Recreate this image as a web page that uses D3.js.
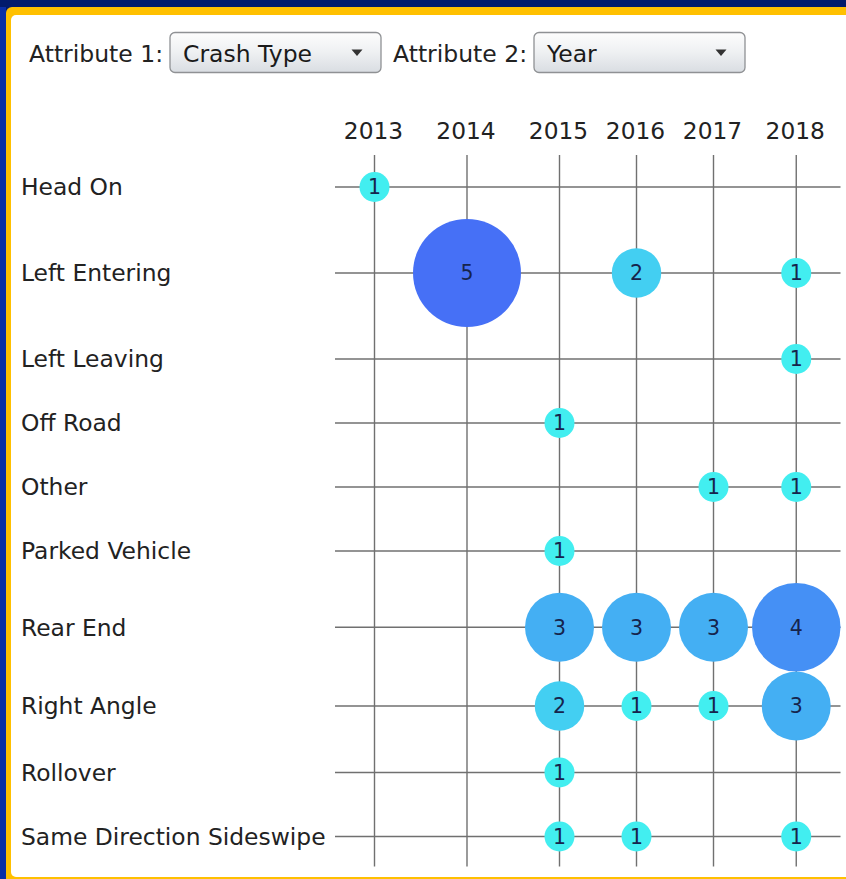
<!DOCTYPE html>
<html>
<head>
<meta charset="utf-8">
<script src="https://cdn.jsdelivr.net/npm/d3@7"></script>
<style>
  html, body { margin: 0; padding: 0; background: #ffffff; }
  svg { display: block; }
  text { font-family: "DejaVu Sans", Verdana, sans-serif; }
</style>
</head>
<body>
<svg id="chart" width="846" height="879"></svg>
<script>
// Crash counts by crash type (rows) and year (columns); 0 = no crashes
const categories = [
  "Head On", "Left Entering", "Left Leaving", "Off Road", "Other",
  "Parked Vehicle", "Rear End", "Right Angle", "Rollover", "Same Direction Sideswipe"
];
const years = ["2013", "2014", "2015", "2016", "2017", "2018"];

const headOn        = [1, 0, 0, 0, 0, 0];
const leftEntering  = [0, 5, 0, 2, 0, 1];
const leftLeaving   = [0, 0, 0, 0, 0, 1];
const offRoad       = [0, 0, 1, 0, 0, 0];
const other         = [0, 0, 0, 0, 1, 1];
const parkedVehicle = [0, 0, 1, 0, 0, 0];
const rearEnd       = [0, 0, 3, 3, 3, 4];
const rightAngle    = [0, 0, 2, 1, 1, 3];
const rollover      = [0, 0, 1, 0, 0, 0];
const sameDirection = [0, 0, 1, 1, 0, 1];

const counts = [headOn, leftEntering, leftLeaving, offRoad, other,
                parkedVehicle, rearEnd, rightAngle, rollover, sameDirection];

const attribute1 = "Crash Type";
const attribute2 = "Year";

const svg = d3.select("#chart");
const W = 846, H = 879;

// ---- frame ----
svg.append("rect").attr("x", 0).attr("y", 0).attr("width", W).attr("height", H).attr("fill", "#021b6c");
svg.append("rect").attr("x", 0).attr("y", 7).attr("width", 6).attr("height", H - 7).attr("fill", "#0a2fa6");
svg.append("rect").attr("x", 6).attr("y", 7).attr("width", W + 10).attr("height", H).attr("rx", 6).attr("fill", "#ffc000");
svg.append("rect").attr("x", 11).attr("y", 15).attr("width", W + 10).attr("height", H - 17).attr("rx", 5).attr("fill", "#ffffff");

// ---- attribute pickers ----
const defs = svg.append("defs");
const grad = defs.append("linearGradient").attr("id", "comboFill")
  .attr("x1", 0).attr("y1", 0).attr("x2", 0).attr("y2", 1);
grad.append("stop").attr("offset", "0%").attr("stop-color", "#fdfdfd");
grad.append("stop").attr("offset", "50%").attr("stop-color", "#eef0f2");
grad.append("stop").attr("offset", "100%").attr("stop-color", "#d9dde2");

function combo(labelX, label, boxX, boxW, value) {
  svg.append("text").attr("x", labelX).attr("y", 62)
    .attr("font-size", 23.5).attr("fill", "#222222").text(label);
  svg.append("rect").attr("x", boxX).attr("y", 32.5).attr("width", boxW).attr("height", 40)
    .attr("rx", 5).attr("fill", "url(#comboFill)").attr("stroke", "#8f9194").attr("stroke-width", 1.3);
  svg.append("text").attr("x", boxX + 13).attr("y", 62)
    .attr("font-size", 23.5).attr("fill", "#1a1a1a").text(value);
  const ax = boxX + boxW - 24, ay = 53;
  svg.append("path")
    .attr("d", `M${ax - 5.5},${ay - 3.5}L${ax + 5.5},${ay - 3.5}L${ax},${ay + 3}Z`)
    .attr("fill", "#333333");
}
combo(29, "Attribute 1:", 170, 211, attribute1);
combo(393, "Attribute 2:", 534, 211, attribute2);

// ---- scales ----
const r = d3.scaleLinear().domain([1, 5]).range([15, 54]);
const color = d3.scaleLinear().domain([1, 5]).range(["#42eef0", "#4670f6"]);

// Each column / row is as wide / tall as its largest bubble, with a minimum
const minColW = 77, minRowH = 64;
const gridLeft = 336, gridTop = 155;
const colW = years.map((y, j) => Math.max(minColW, 2 * r(d3.max(counts, row => row[j]) || 1)));
const rowH = categories.map((c, i) => Math.max(minRowH, 2 * r(d3.max(counts[i]) || 1)));
const colEdges = [0, ...d3.cumsum(colW)];
const rowEdges = [0, ...d3.cumsum(rowH)];

const x = d3.scaleOrdinal().domain(years)
  .range(years.map((y, j) => gridLeft + colEdges[j] + colW[j] / 2));
const y = d3.scaleOrdinal().domain(categories)
  .range(categories.map((c, i) => gridTop + rowEdges[i] + rowH[i] / 2));

const gridRight = gridLeft + colEdges[colEdges.length - 1];
const gridBottom = gridTop + rowEdges[rowEdges.length - 1];

// ---- grid lines ----
const grid = svg.append("g").attr("stroke", "#707070").attr("stroke-width", 1.4);
grid.selectAll("line.h").data(categories).join("line").attr("class", "h")
  .attr("x1", gridLeft - 1).attr("x2", gridRight)
  .attr("y1", d => y(d)).attr("y2", d => y(d));
grid.selectAll("line.v").data(years).join("line").attr("class", "v")
  .attr("x1", d => x(d)).attr("x2", d => x(d))
  .attr("y1", gridTop).attr("y2", gridBottom - 2);

// ---- column headers ----
svg.append("g").selectAll("text").data(years).join("text")
  .attr("x", d => x(d) - 1).attr("y", 138.5)
  .attr("text-anchor", "middle").attr("font-size", 23.3).attr("fill", "#222222")
  .text(d => d);

// ---- row labels ----
svg.append("g").selectAll("text").data(categories).join("text")
  .attr("x", 21).attr("y", d => y(d)).attr("dy", "0.36em")
  .attr("font-size", 23.4).attr("fill", "#222222")
  .text(d => d);

// ---- bubbles ----
const cells = [];
categories.forEach((c, i) => years.forEach((yr, j) => {
  if (counts[i][j] > 0) cells.push({ cat: c, year: yr, value: counts[i][j] });
}));

const bubbles = svg.append("g").selectAll("g").data(cells).join("g")
  .attr("transform", d => `translate(${x(d.year)},${y(d.cat)})`);
bubbles.append("circle")
  .attr("r", d => r(d.value))
  .attr("fill", d => color(d.value));
bubbles.append("text")
  .attr("text-anchor", "middle").attr("dy", "0.36em")
  .attr("font-size", 20.5).attr("fill", "#16244c")
  .text(d => d.value);
</script>
</body>
</html>
